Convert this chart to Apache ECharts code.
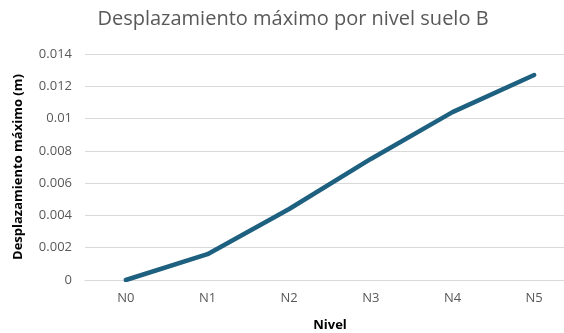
<!DOCTYPE html>
<html>
<head>
<meta charset="utf-8">
<script src="https://cdn.jsdelivr.net/npm/echarts@6/dist/echarts.min.js"></script>
<style>
  html, body { margin: 0; padding: 0; background: #fff; }
  #chart { width: 564px; height: 333px; }
</style>
</head>
<body>
<div id="chart"></div>
<script>
// Maximum storey displacement for soil type B
const niveles = ['N0', 'N1', 'N2', 'N3', 'N4', 'N5'];
const desplazamiento = [0, 0.0016, 0.0044, 0.0075, 0.0104, 0.0127];
const yTicks = { min: 0, max: 0.014, interval: 0.002 };

const chart = echarts.init(document.getElementById('chart'), null, { renderer: 'canvas' });
chart.setOption({
  animation: false,
  backgroundColor: '#ffffff',
  textStyle: { fontFamily: 'Open Sans' },
  title: {
    text: 'Desplazamiento máximo por nivel suelo B',
    left: 288,
    textAlign: 'center',
    top: 4,
    textStyle: { fontFamily: 'Open Sans', fontSize: 20, fontWeight: 'normal', color: '#595959' }
  },
  grid: { left: 85, top: 54, width: 490, height: 226, outerBoundsMode: 'none', containLabel: false },
  xAxis: {
    type: 'category',
    data: niveles,
    boundaryGap: true,
    name: 'Nivel',
    nameLocation: 'middle',
    nameGap: 39,
    nameTextStyle: { fontFamily: 'Open Sans', fontSize: 13, fontWeight: 'bold', color: '#000' },
    axisLine: { show: true, lineStyle: { color: '#d9d9d9', width: 1 } },
    axisTick: { show: false },
    axisLabel: { color: '#595959', fontSize: 13, margin: 12 }
  },
  yAxis: {
    type: 'value',
    min: yTicks.min,
    max: yTicks.max,
    interval: yTicks.interval,
    name: 'Desplazamiento máximo (m)',
    nameLocation: 'middle',
    nameGap: 60,
    nameTextStyle: { fontFamily: 'Open Sans', fontSize: 13, fontWeight: 'bold', color: '#000' },
    axisLine: { show: false },
    axisTick: { show: false },
    splitLine: { lineStyle: { color: '#d9d9d9', width: 1 } },
    axisLabel: { color: '#595959', fontSize: 13, margin: 13, formatter: v => String(+v.toFixed(3)) }
  },
  series: [{
    type: 'line',
    data: desplazamiento,
    symbol: 'none',
    lineStyle: { color: '#1d6080', width: 4.5, cap: 'round', join: 'round' }
  }]
});
</script>
</body>
</html>
